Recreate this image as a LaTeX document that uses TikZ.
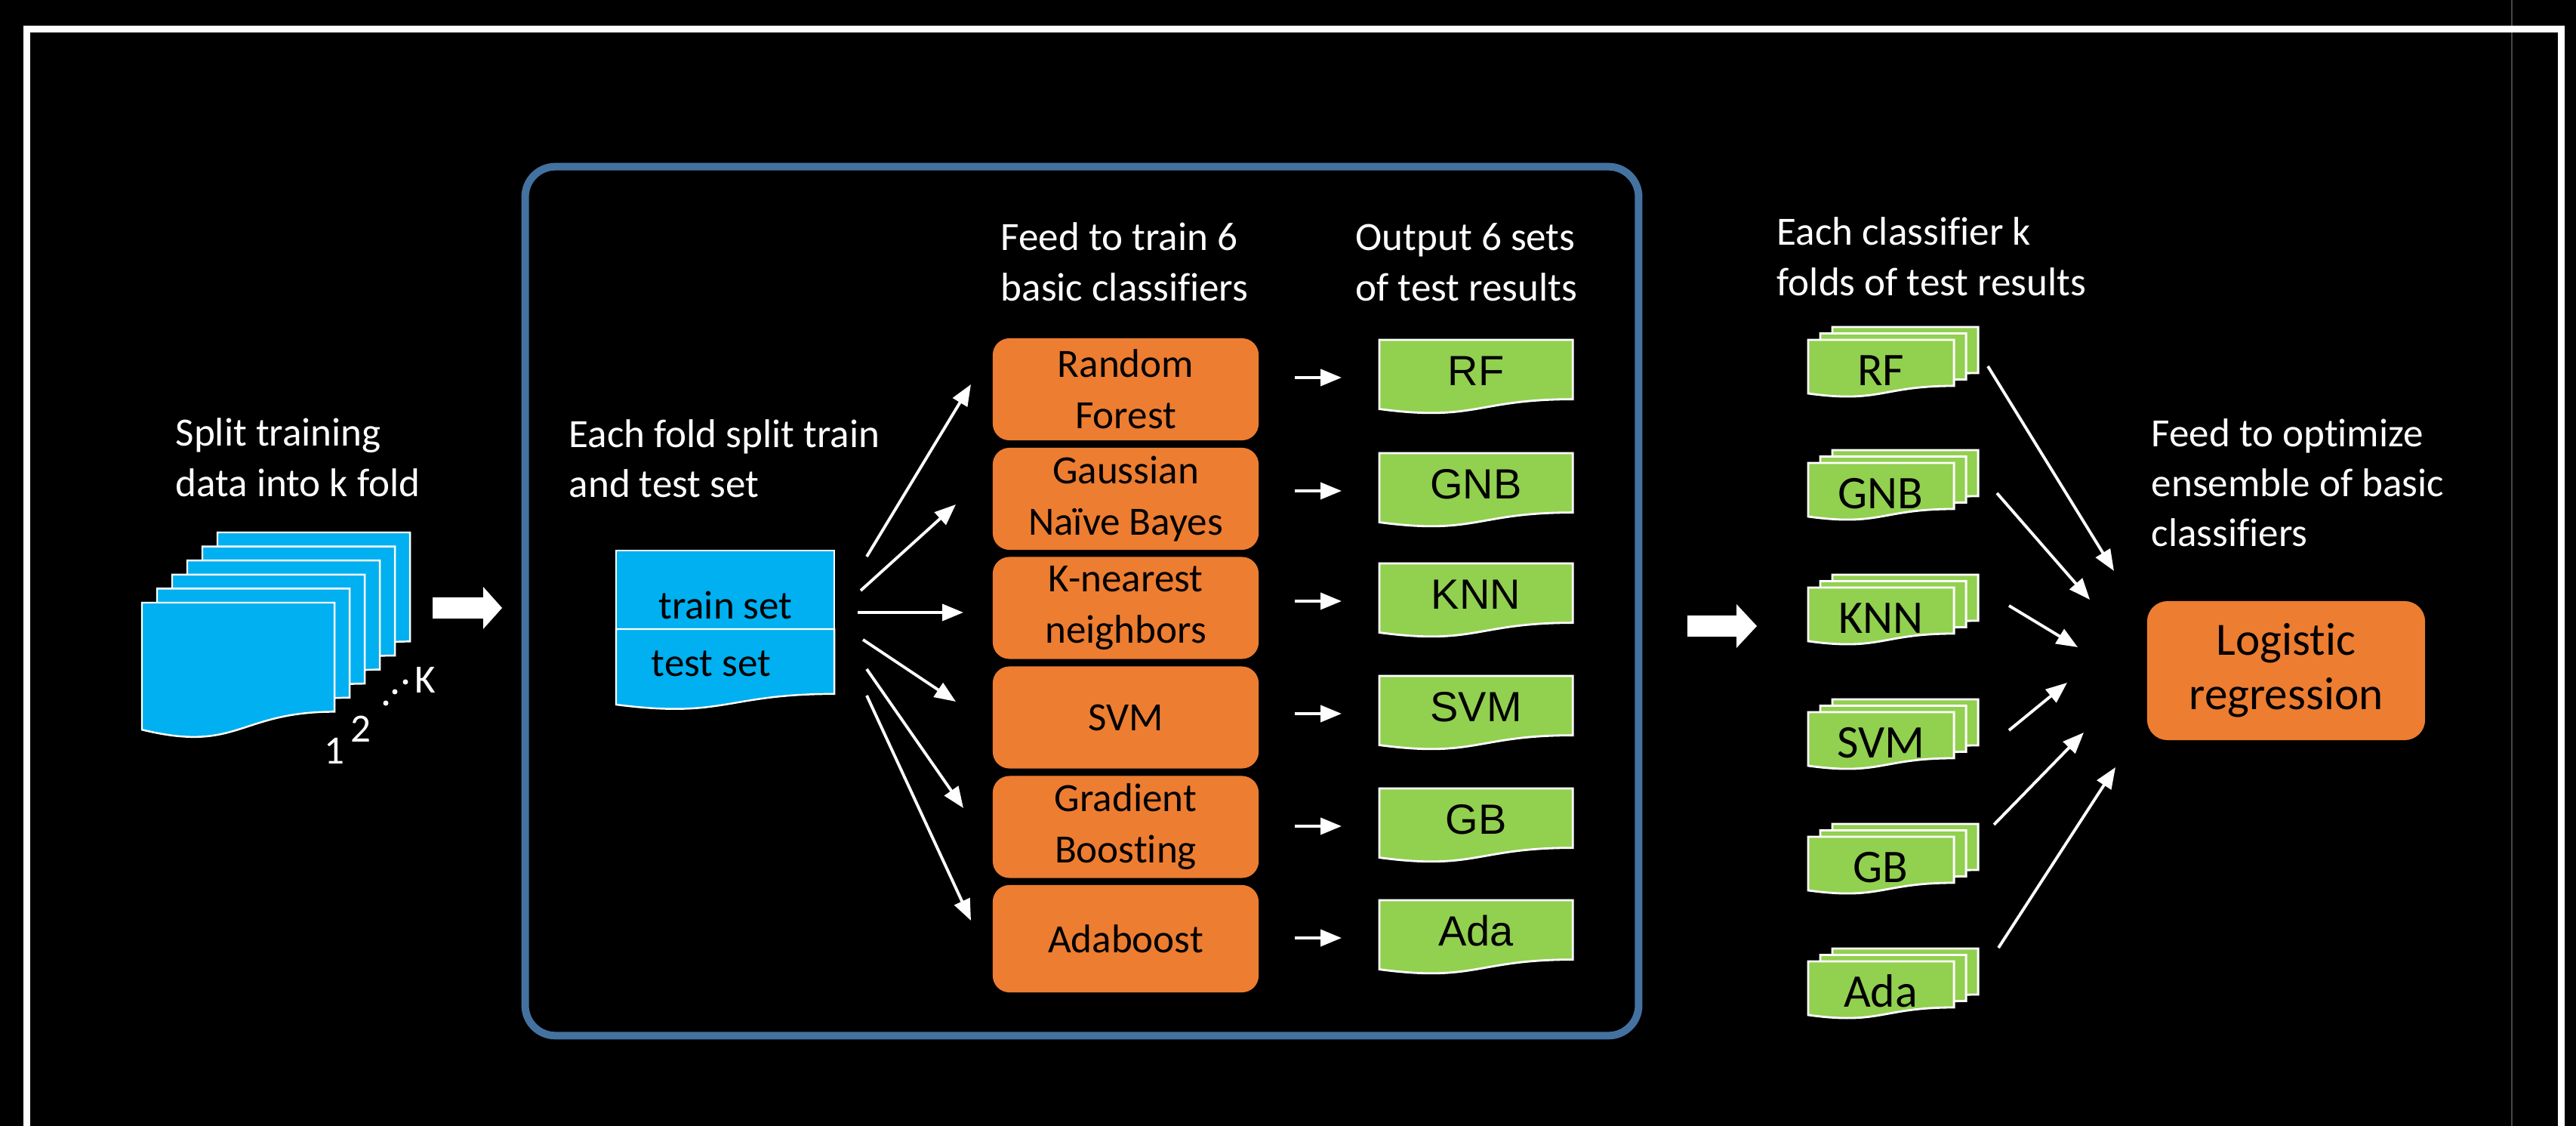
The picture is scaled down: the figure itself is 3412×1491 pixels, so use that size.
\documentclass[tikz,border=0pt]{standalone}
\usepackage{fontspec}
\setmainfont{Carlito}[Ligatures=NoCommon]
\newfontfamily\arialfont{Liberation Sans}
\usetikzlibrary{arrows.meta,calc}

\definecolor{panelblue}{RGB}{68,114,160}
\definecolor{foldblue}{RGB}{0,176,240}
\definecolor{clforange}{RGB}{237,125,49}
\definecolor{resgreen}{RGB}{146,208,80}
\definecolor{edgegray}{RGB}{70,70,70}

% flowchart "document" outline over the box of node #1, drawn with options #2
\newcommand\docpath[2]{%
  \path[#2] (#1.north west) -- (#1.north east)
    -- ($(#1.north east)!0.802!(#1.south east)$)
    .. controls ($(#1.north)!0.802!(#1.south)$) and ($(#1.north)!1.1075!(#1.south)$)
    .. ($(#1.north west)!0.934!(#1.south west)$) -- cycle;}

\begin{document}
\begin{tikzpicture}[x=0.01cm,y=-0.01cm,
  docnode/.style={inner sep=0pt, outer sep=0pt, draw=none, anchor=north west},
  wtext/.style={font=\fontsize{15.1}{19}\selectfont, text=white, anchor=base west, inner sep=0pt},
  numlbl/.style={font=\fontsize{15.1}{19}\selectfont, text=white, inner sep=0pt},
  btext/.style={font=\fontsize{15.1}{19}\selectfont, text=black, anchor=base, inner sep=0pt},
  foldpage/.style={fill=foldblue, draw=white, line width=0.7pt},
  greenfill/.style={fill=resgreen, draw=white, line width=0.8pt},
  clf/.style={fill=clforange, rounded corners=0.22cm, minimum width=3.52cm,
    minimum height=1.35cm, inner sep=0pt, align=center,
    font=\fontsize{15.1}{19.4}\selectfont, text=black},
  artext/.style={font=\arialfont\fontsize{15.9}{18}\selectfont, text=black, anchor=base, inner sep=0pt},
  rstext/.style={font=\fontsize{17.6}{20}\selectfont, text=black, anchor=base, inner sep=0pt},
  conn/.style={draw=white, line width=1.1pt, -{Triangle[length=0.28cm,width=0.22cm]}},
  blockarrow/.style={fill=white}
]
\useasboundingbox (0,0) rectangle (3412,1491);
\fill[black] (0,0) rectangle (3412,1491);

% outer frame
\draw[edgegray, line width=0.6pt] (3327,0) -- (3327,1491);
\draw[white, line width=2.56pt] (35.5,1491) -- (35.5,39) -- (3392,39) -- (3392,1491);

% panel for one fold
\node[draw=panelblue, line width=2.85pt, rounded corners=0.4cm, minimum width=14.74cm,
  minimum height=11.5cm, inner sep=0pt] (panel) at (1433,796) {};

% ---- k folds of the training data
\node[wtext] (t1a) at (232,590) {Split training};
\node[wtext] (t1b) at (232,657) {data into k fold};
\foreach \i in {5,4,...,0}{
  \node[docnode, minimum width=2.55cm, minimum height=1.8cm] (pg\i) at ({188+20*\i},{798-18.6*\i}) {};
  \docpath{pg\i}{foldpage}
}
\node[numlbl] (n1) at (443,994) {1};
\node[numlbl] (n2) at (478,965) {2};
\fill[white] (511,931) circle (3.5);
\fill[white] (523,916) circle (3.5);
\fill[white] (537,903) circle (3.5);
\node[numlbl] (nk) at (563,900) {K};

\fill[blockarrow] (573,791) -- (640,791) -- (640,777) -- (665,805) -- (640,833)
  -- (640,819) -- (573,819) -- cycle;

% ---- train / test split
\node[wtext] (t2a) at (753,592) {Each fold split train};
\node[wtext] (t2b) at (753,658) {and test set};
\node[docnode, minimum width=2.89cm, minimum height=1.04cm, fill=foldblue, draw=white,
  line width=0.7pt] (train) at (816,729) {};
\node[docnode, minimum width=2.89cm, minimum height=1.07cm] (test) at (816,833) {};
\docpath{test}{foldpage}
\node[btext] (trainlbl) at (961,819) {train set};
\node[btext] (testlbl) at (942,895) {test set};

% ---- basic classifiers
\node[wtext] (t3a) at (1325,331) {Feed to train 6};
\node[wtext] (t3b) at (1325,398) {basic classifiers};
\node[clf] (c1) at (1491,515.5) {Random\\Forest};
\node[clf] (c2) at (1491,660.5) {Gaussian\\Naïve Bayes};
\node[clf] (c3) at (1491,805) {K-nearest\\neighbors};
\node[clf] (c4) at (1491,950) {SVM};
\node[clf] (c5) at (1491,1095) {Gradient\\Boosting};
\node[clf, minimum height=1.42cm] (c6) at (1491,1243) {Adaboost};

\coordinate (s1) at (1148,737);  \coordinate (e1) at (1286,509);
\coordinate (s2) at (1140,782);  \coordinate (e2) at (1266,668);
\coordinate (s3) at (1136,811);  \coordinate (e3) at (1276,811);
\coordinate (s4) at (1143,847);  \coordinate (e4) at (1266,929);
\coordinate (s5) at (1148,886);  \coordinate (e5) at (1276,1070);
\coordinate (s6) at (1148,921);  \coordinate (e6) at (1286,1219);
\foreach \k in {1,...,6}{ \draw[conn] (s\k) -- (e\k); }

% ---- test results of each classifier
\node[wtext] (t4a) at (1795,331) {Output 6 sets};
\node[wtext] (t4b) at (1795,398) {of test results};
\foreach \T/\lab/\n in {450/RF/1, 600/GNB/2, 746/KNN/3, 895/SVM/4, 1044/GB/5, 1192/Ada/6}{
  \node[docnode, minimum width=2.56cm, minimum height=0.98cm] (g\n) at (1827,\T) {};
  \docpath{g\n}{greenfill}
  \node[artext] (gl\n) at (1955,\T+60) {\lab};
  \coordinate (ms\n) at (1715,\T+50);
  \coordinate (me\n) at (1777,\T+50);
  \draw[conn] (ms\n) -- (me\n);
}

\fill[blockarrow] (2235,815) -- (2300,815) -- (2300,800) -- (2327,829) -- (2300,858)
  -- (2300,843) -- (2235,843) -- cycle;

% ---- k folds of results per classifier
\node[wtext] (t5a) at (2353,324) {Each classifier k};
\node[wtext] (t5b) at (2353,391) {folds of test results};
\foreach \T/\lab/\n in {450/RF/1, 613/GNB/2, 778/KNN/3, 943/SVM/4, 1108/GB/5, 1273/Ada/6}{
  \foreach \j in {2,1,0}{
    \node[docnode, minimum width=1.93cm, minimum height=0.76cm] (r\n-\j) at ({2395+16*\j},{\T-8.5*\j}) {};
    \docpath{r\n-\j}{greenfill}
  }
  \node[rstext] (rl\n) at (2491,\T+60) {\lab};
}

% ---- ensemble
\node[wtext] (t6a) at (2849,591) {Feed to optimize};
\node[wtext] (t6b) at (2849,657) {ensemble of basic};
\node[wtext] (t6c) at (2849,723) {classifiers};
\node[fill=clforange, rounded corners=0.27cm, minimum width=3.68cm, minimum height=1.84cm,
  inner sep=0pt, align=center, font=\fontsize{17.4}{20.5}\selectfont, text=black]
  (lr) at (3028,888) {Logistic\\regression};

\coordinate (f1) at (2633,485);  \coordinate (h1) at (2800,756);
\coordinate (f2) at (2645,653);  \coordinate (h2) at (2768,794);
\coordinate (f3) at (2661,802);  \coordinate (h3) at (2752,857);
\coordinate (f4) at (2661,967);  \coordinate (h4) at (2738,904);
\coordinate (f5) at (2641,1092); \coordinate (h5) at (2760,970);
\coordinate (f6) at (2647,1255); \coordinate (h6) at (2802,1016);
\foreach \k in {1,...,6}{ \draw[conn] (f\k) -- (h\k); }
\end{tikzpicture}
\end{document}
